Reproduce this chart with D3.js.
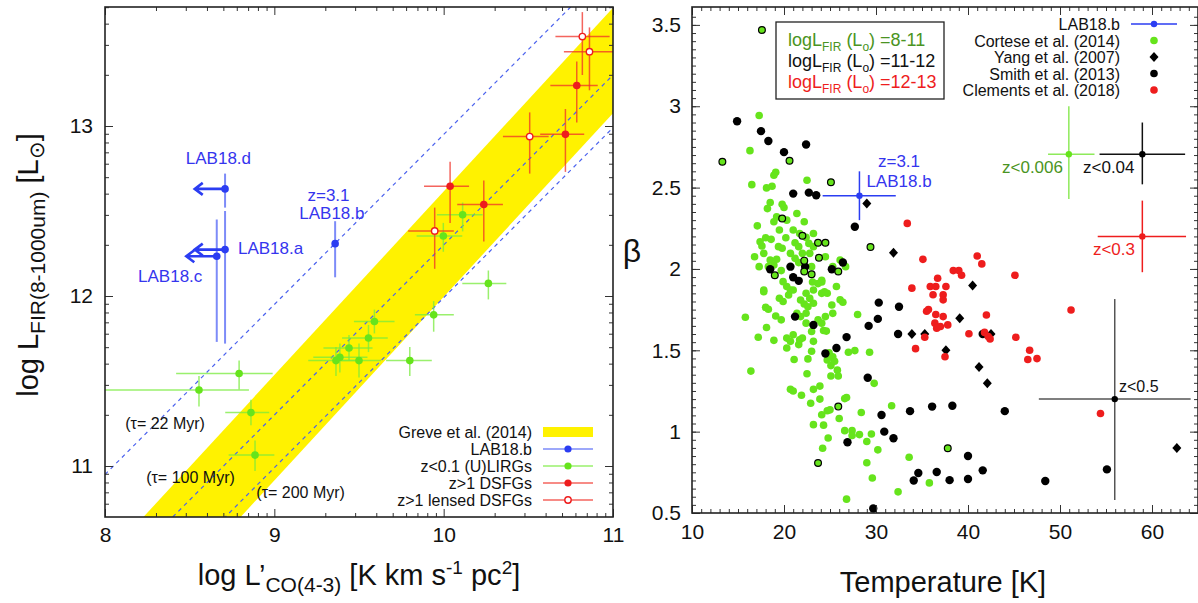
<!DOCTYPE html>
<html>
<head>
<meta charset="utf-8">
<script src="https://cdn.jsdelivr.net/npm/d3@7"></script>
<style>
  body { margin: 0; background: #fff; }
  text { font-family: "Liberation Sans", Arial, sans-serif; }
</style>
</head>
<body>
<svg id="fig" width="1198" height="603"></svg>
<script>
// ---------- left panel data : log L'CO(4-3) vs log LFIR ----------
const lirgs = [ // z<0.1 (U)LIRGs
  {x:10.112,y:12.478,xlo:9.96,xhi:10.23,ylo:12.38,yhi:12.55},
  {x:9.998,y:12.353,xlo:9.84,xhi:10.11,ylo:12.26,yhi:12.43},
  {x:10.264,y:12.074,xlo:10.11,xhi:10.37,ylo:11.98,yhi:12.15},
  {x:9.941,y:11.889,xlo:9.83,xhi:10.06,ylo:11.79,yhi:11.97},
  {x:9.591,y:11.85,xlo:9.47,xhi:9.71,ylo:11.78,yhi:11.92},
  {x:9.556,y:11.753,xlo:9.40,xhi:9.67,ylo:11.67,yhi:11.83},
  {x:9.441,y:11.694,xlo:9.29,xhi:9.58,ylo:11.62,yhi:11.77},
  {x:9.387,y:11.64,xlo:9.23,xhi:9.55,ylo:11.55,yhi:11.72},
  {x:9.364,y:11.62,xlo:9.20,xhi:9.50,ylo:11.53,yhi:11.70},
  {x:9.50,y:11.62,xlo:9.36,xhi:9.63,ylo:11.52,yhi:11.72},
  {x:9.80,y:11.62,xlo:9.66,xhi:9.93,ylo:11.53,yhi:11.70},
  {x:8.792,y:11.544,xlo:8.42,xhi:8.99,ylo:11.45,yhi:11.62},
  {x:8.555,y:11.447,xlo:8.0,xhi:8.85,ylo:11.35,yhi:11.53},
  {x:8.862,y:11.314,xlo:8.71,xhi:8.97,ylo:11.24,yhi:11.39},
  {x:8.886,y:11.064,xlo:8.73,xhi:9.00,ylo:10.97,yhi:11.15}
];
const dsfgs = [ // z>1 DSFGs
  {x:10.038,y:12.646,xlo:9.884,xhi:10.15,ylo:12.43,yhi:12.79},
  {x:10.237,y:12.538,xlo:10.08,xhi:10.35,ylo:12.32,yhi:12.68},
  {x:10.719,y:12.951,xlo:10.57,xhi:10.83,ylo:12.73,yhi:13.10},
  {x:10.786,y:13.238,xlo:10.63,xhi:10.91,ylo:13.02,yhi:13.38}
];
const lensed = [ // z>1 lensed DSFGs
  {x:9.947,y:12.383,xlo:9.79,xhi:10.06,ylo:12.16,yhi:12.52},
  {x:10.508,y:12.938,xlo:10.35,xhi:10.62,ylo:12.72,yhi:13.08},
  {x:10.819,y:13.526,xlo:10.66,xhi:10.98,ylo:13.30,yhi:13.67},
  {x:10.861,y:13.437,xlo:10.71,xhi:11.0,ylo:13.21,yhi:13.58}
];
const labNames = ['LAB18.a', 'LAB18.b', 'LAB18.c', 'LAB18.d'];
const labX     = [8.709, 9.359, 8.66, 8.709];
const labY     = [12.273, 12.308, 12.234, 12.63];
const labYlo   = [11.72, 12.11, 11.73, 12.52];
const labYhi   = [12.50, 12.44, 12.45, 12.72];
const labLimit = [8.53, null, 8.48, 8.53];   // upper limits in L'CO (arrow tip)

const greve = {slope: 1.08, icpt: 1.505, half: 0.31};   // Greve et al. (2014) band
const tauNames   = ['(\u03c4= 22 Myr)', '(\u03c4= 100 Myr)', '(\u03c4= 200 Myr)'];
const tauOffsets = [2.95, 2.30, 1.99];                   // log LFIR - log L'CO

const leftLegend = ['Greve et al. (2014)', 'LAB18.b', 'z<0.1 (U)LIRGs', 'z>1 DSFGs', 'z>1 lensed DSFGs'];

// ---------- right panel data : temperature vs beta ----------
const cortese = [
  [17.3,2.943],[16.3,2.727],[19.1,2.594],[18.9,2.576],[16.5,2.518],[18.1,2.498],[18.7,2.508],[22.5,2.545],
  [18.5,2.408],[18.2,2.371],[19.8,2.398],[20.0,2.378],[21.4,2.341],[19.2,2.32],[18.9,2.29],[20.3,2.30],
  [17.1,2.265],[22.2,2.29],[19.5,2.239],[21.0,2.239],[18.0,2.192],[18.6,2.182],[20.2,2.192],[23.2,2.218],
  [21.2,2.161],[21.6,2.137],[17.6,2.141],[19.4,2.137],[19.8,2.127],[22.8,2.096],[16.8,2.075],[20.7,2.096],
  [18.5,2.055],[19.2,2.06],[21.6,2.039],[24.5,2.075],[26.1,2.055],[26.7,2.014],[17.3,2.014],[19.7,1.99],
  [23.0,2.014],[24.1,1.92],[17.8,1.871],[20.3,1.892],[22.4,1.851],[19.5,1.82],[23.2,1.871],[25.7,1.892],[26.1,1.81],
  [21.7,2.218],[22.4,2.194],[22.7,2.157],[22.0,2.096],[21.2,2.065],[23.2,2.137],[17.4,2.167],[17.8,2.096],
  [18.9,2.024],[18.3,2.014],[25.3,2.014],[19.9,1.922],[21.0,1.871],[24.7,1.851],
  [17.8,1.86],[15.8,1.703],[18.0,1.764],[18.3,1.752],[19.1,1.711],[19.7,1.687],[18.1,1.64],[17.2,1.58],
  [18.9,1.561],[20.3,1.514],[21.1,1.443],[16.4,1.372],[20.7,1.26],[21.0,1.25],[21.9,1.224],[22.5,1.356],
  [23.2,1.26],[23.9,1.28],[22.9,1.175],[23.9,1.20],[24.1,1.104],[24.7,1.128],[25.0,1.134],[23.2,1.043],
  [24.3,1.04],[24.8,0.961],[24.2,0.898],[26.6,1.203],[26.8,1.21],[26.0,1.081],[28.4,1.118],[26.6,1.006],
  [27.4,1.006],[27.4,0.976],[28.2,0.982],[29.0,0.939],[29.5,0.986],[30.2,0.888],[29.0,0.809],[29.6,0.715],
  [29.8,1.297],[29.3,1.488],[31.7,1.159],[33.6,0.843],[32.4,0.63],[26.8,0.585],[35.8,0.685],[28.0,1.72],
  [26.4,1.795],[25.2,1.778],[27.7,1.498],[27.0,1.488],[24.3,1.622],[24.6,1.618],[24.9,1.484],[25.3,1.46],
  [24.7,1.44],[25.1,1.406],[25.5,1.433],[25.8,1.378],[25.9,1.342],[25.1,1.342],[22.6,1.447],[23.0,1.494],
  [21.6,1.535],[21.0,1.596],[21.7,1.565],[22.0,1.575],[20.3,1.575],[20.7,1.555],[23.7,1.687],[24.1,1.667],
  [23.0,1.616],[23.2,1.555],[22.2,1.785],[22.6,1.768],[23.2,1.789],[21.8,1.809],[22.8,1.819],[24.1,1.93],
  [23.7,1.91],[23.1,1.92],[20.7,1.87],[20.5,1.84],[24.1,1.85],[24.4,1.86],[25.3,1.727],[21.4,1.728],
  [21.8,1.707],[22.4,1.728],[24.5,1.707],[22.4,1.667],[19.9,1.80]
];
const corteseRing = [
  [17.6,3.469],[13.3,2.659],[20.6,2.665],[25.1,2.533],[19.8,2.31],[22.0,2.204],[23.7,2.161],[24.5,2.161],
  [29.4,2.135],[23.8,2.069],[22.2,2.051],[19.0,1.961],[22.2,1.984],[23.0,1.967],[25.9,1.984],[25.9,1.154],
  [23.7,0.807],[37.8,0.898]
];
const smith = [
  [14.9,2.908],[17.5,2.847],[18.3,2.786],[20.0,2.718],[22.4,2.765],[21.0,2.463],[22.7,2.469],[23.5,2.453],
  [27.7,2.259],[18.5,1.998],[20.7,2.014],[22.3,2.014],[21.0,1.949],[21.6,1.927],[25.2,1.998],[26.4,2.04],
  [30.3,1.793],[32.5,1.768],[21.2,1.707],[30.2,1.693],[23.2,1.656],[29.2,1.65],[32.4,1.60],[26.8,1.581],
  [25.7,1.514],[24.5,1.48],[29.1,1.331],[36.1,1.154],[38.3,1.159],[33.7,1.126],[30.6,1.102],[44.0,1.126],
  [30.9,1.0],[31.9,0.959],[26.9,0.935],[40.0,0.85],[34.6,0.746],[36.6,0.752],[41.6,0.762],[34.1,0.70],
  [38.0,0.702],[40.0,0.709],[48.4,0.697],[55.1,0.768],[29.7,0.528],[41.6,1.60]
];
const yang = [
  [29.0,2.402],[31.9,2.10],[40.5,1.898],[39.1,1.697],[33.9,1.60],[35.3,1.60],[42.5,1.60],[37.6,1.50],
  [41.2,1.398],[42.1,1.297],[62.7,0.90]
];
const clements = [
  [33.4,2.28],[35.1,2.059],[41.0,2.08],[41.5,2.031],[38.4,1.99],[39.0,1.99],[39.3,1.961],[36.7,1.943],
  [35.9,1.892],[36.5,1.892],[37.6,1.892],[33.9,1.882],[36.2,1.841],[37.3,1.841],[45.1,1.961],[51.2,1.748],
  [42.0,1.717],[35.5,1.74],[35.7,1.75],[36.5,1.72],[37.3,1.707],[36.4,1.667],[37.0,1.646],[37.8,1.656],
  [36.6,1.636],[37.3,1.81],[40.1,1.602],[41.8,1.61],[42.2,1.585],[42.4,1.57],[35.3,1.58],[34.3,1.51],
  [37.5,1.46],[45.2,1.58],[46.7,1.50],[46.5,1.443],[47.5,1.449],[54.4,1.112]
];
// LAB18.b and typical error bars of the comparison samples
const crossNames = ['LAB18.b', 'z<0.006', 'z<0.04', 'z<0.3', 'z<0.5'];
const crossT   = [28.2, 50.96, 58.95, 58.95, 55.95];
const crossTlo = [24.2, 48.7, 54.3, 54.1, 47.7];
const crossThi = [32.15, 53.75, 63.6, 63.7, 64.2];
const crossB   = [2.45, 2.705, 2.705, 2.20, 1.20];
const crossBlo = [2.30, 2.43, 2.52, 1.98, 0.58];
const crossBhi = [2.60, 3.0, 2.90, 2.42, 1.815];

const rightLegend = ['LAB18.b', 'Cortese et al. (2014)', 'Yang et al. (2007)', 'Smith et al. (2013)', 'Clements et al. (2018)'];
const lumRanges = ['8-11', '11-12', '12-13'];

// ---------- colours ----------
const GREEN = '#66e41c', GREEN_BAR = 'rgba(120,235,60,0.75)', GREEN_TXT = '#4a9422';
const RED = '#ee1d1d', RED_BAR = 'rgba(240,50,40,0.75)';
const BLUE = '#2b3df2', BLUE_BAR = 'rgba(70,90,245,0.7)';

const svg = d3.select('#fig');

// frame + inward ticks on all four sides
function drawFrame(g, x, y, o) {
  const [x0, x1] = x.range(), [y0, y1] = y.range();
  const ax = (gen, tr, vals, size, fmt, pad) => {
    const a = g.append('g').attr('transform', tr)
      .call(gen.tickValues(vals).tickSize(-size).tickPadding(pad || 3).tickFormat(fmt || ''));
    a.select('.domain').remove();
    a.selectAll('line').attr('stroke', '#333').attr('stroke-width', 1);
    a.selectAll('text').attr('font-size', 21).attr('fill', '#111');
    return a;
  };
  ax(d3.axisBottom(x), `translate(0,${y0})`, o.xMaj, 8, o.fx, o.padX);
  ax(d3.axisBottom(x), `translate(0,${y0})`, o.xMin, 4);
  ax(d3.axisTop(x), `translate(0,${y1})`, o.xMaj, 8);
  ax(d3.axisTop(x), `translate(0,${y1})`, o.xMin, 4);
  ax(d3.axisLeft(y), `translate(${x0},0)`, o.yMaj, 8, o.fy, o.padY);
  ax(d3.axisLeft(y), `translate(${x0},0)`, o.yMin, 4);
  ax(d3.axisRight(y), `translate(${x1},0)`, o.yMaj, 8);
  ax(d3.axisRight(y), `translate(${x1},0)`, o.yMin, 4);
  g.append('rect').attr('x', x0).attr('y', y1).attr('width', x1 - x0).attr('height', y0 - y1)
    .attr('fill', 'none').attr('stroke', '#222').attr('stroke-width', 1.6);
}

function errBars(g, data, x, y, color, width) {
  g.selectAll(null).data(data).enter().append('line')
    .attr('x1', d => x(d.xlo)).attr('x2', d => x(d.xhi))
    .attr('y1', d => y(d.y)).attr('y2', d => y(d.y))
    .attr('stroke', color).attr('stroke-width', width);
  g.selectAll(null).data(data).enter().append('line')
    .attr('x1', d => x(d.x)).attr('x2', d => x(d.x))
    .attr('y1', d => y(d.ylo)).attr('y2', d => y(d.yhi))
    .attr('stroke', color).attr('stroke-width', width);
}

// ================= LEFT PANEL =================
const xL = d3.scaleLinear().domain([8, 11]).range([105, 613]);
const yL = d3.scaleLinear().domain([10.70, 13.70]).range([517, 7]);
const left = svg.append('g');
svg.append('clipPath').attr('id', 'clipL').append('rect')
  .attr('x', 105).attr('y', 7).attr('width', 508).attr('height', 510);
const plotL = left.append('g').attr('clip-path', 'url(#clipL)');

const bandX = xL.domain();
const up = x => greve.slope * x + greve.icpt + greve.half;
const lo = x => greve.slope * x + greve.icpt - greve.half;
plotL.append('path')
  .attr('d', d3.line()([[xL(bandX[0]), yL(up(bandX[0]))], [xL(bandX[1]), yL(up(bandX[1]))],
                        [xL(bandX[1]), yL(lo(bandX[1]))], [xL(bandX[0]), yL(lo(bandX[0]))]]) + 'Z')
  .attr('fill', '#fff200');

plotL.selectAll('line.tau').data(tauOffsets).enter().append('line').classed('tau', true)
  .attr('x1', xL(8)).attr('y1', d => yL(8 + d))
  .attr('x2', xL(11)).attr('y2', d => yL(11 + d))
  .attr('stroke', '#4b62ee').attr('stroke-width', 1.2).attr('stroke-dasharray', '4,4');

errBars(plotL, lirgs, xL, yL, GREEN_BAR, 1.5);
errBars(plotL, dsfgs, xL, yL, RED_BAR, 1.5);
errBars(plotL, lensed, xL, yL, RED_BAR, 1.5);

plotL.selectAll(null).data(lirgs).enter().append('circle')
  .attr('cx', d => xL(d.x)).attr('cy', d => yL(d.y)).attr('r', 3.8).attr('fill', GREEN);
plotL.selectAll(null).data(dsfgs).enter().append('circle')
  .attr('cx', d => xL(d.x)).attr('cy', d => yL(d.y)).attr('r', 3.8).attr('fill', RED);
plotL.selectAll(null).data(lensed).enter().append('circle')
  .attr('cx', d => xL(d.x)).attr('cy', d => yL(d.y)).attr('r', 3.2)
  .attr('fill', '#fff').attr('stroke', RED).attr('stroke-width', 1.4);

// LAB18 sources
const labs = labNames.map((n, i) => ({n, x: labX[i], y: labY[i], ylo: labYlo[i], yhi: labYhi[i], lim: labLimit[i]}));
plotL.selectAll(null).data(labs).enter().append('line')
  .attr('x1', d => xL(d.x)).attr('x2', d => xL(d.x))
  .attr('y1', d => yL(d.ylo)).attr('y2', d => yL(d.yhi))
  .attr('stroke', BLUE_BAR).attr('stroke-width', 2);
const lims = labs.filter(d => d.lim !== null);
plotL.selectAll(null).data(lims).enter().append('path')
  .attr('d', d => {
    const x0 = xL(d.x), x1 = xL(d.lim), yy = yL(d.y);
    return `M${x0},${yy}L${x1},${yy}M${x1 + 8},${yy - 6}L${x1},${yy}L${x1 + 8},${yy + 6}`;
  })
  .attr('fill', 'none').attr('stroke', BLUE).attr('stroke-width', 2.6);
plotL.selectAll(null).data(labs).enter().append('circle')
  .attr('cx', d => xL(d.x)).attr('cy', d => yL(d.y)).attr('r', 3.8).attr('fill', BLUE);

const labTxt = left.append('g').attr('fill', '#3535ee').attr('font-size', 17);
labTxt.append('text').attr('x', xL(8.67)).attr('y', yL(12.775)).attr('text-anchor', 'middle').text('LAB18.d');
labTxt.append('text').attr('x', xL(8.785)).attr('y', yL(12.245)).text('LAB18.a');
labTxt.append('text').attr('x', xL(8.385)).attr('y', yL(12.08)).attr('text-anchor', 'middle').text('LAB18.c');
labTxt.append('text').attr('x', xL(9.32)).attr('y', yL(12.56)).attr('text-anchor', 'middle').text('z=3.1');
labTxt.append('text').attr('x', xL(9.34)).attr('y', yL(12.455)).attr('text-anchor', 'middle').text('LAB18.b');

const tauPos = [[8.355, 11.215], [8.505, 10.9], [9.155, 10.81]];
left.append('g').attr('font-size', 16).attr('fill', '#111')
  .selectAll('text').data(tauNames).enter().append('text')
  .attr('x', (d, i) => xL(tauPos[i][0])).attr('y', (d, i) => yL(tauPos[i][1]))
  .attr('text-anchor', 'middle').text(d => d);

// legend left
const legL = left.append('g').attr('font-size', 16).attr('fill', '#111');
leftLegend.forEach((t, i) => {
  const yy = 432 + i * 17;
  legL.append('text').attr('x', 532).attr('y', yy + 6).attr('text-anchor', 'end').text(t);
  if (i === 0) {
    legL.append('rect').attr('x', 543).attr('y', yy - 5).attr('width', 50).attr('height', 10).attr('fill', '#fff200');
  } else {
    const lc = [BLUE_BAR, GREEN_BAR, RED_BAR, RED_BAR][i - 1];
    legL.append('line').attr('x1', 543).attr('x2', 593).attr('y1', yy).attr('y2', yy).attr('stroke', lc).attr('stroke-width', 1.4);
    legL.append('circle').attr('cx', 568).attr('cy', yy).attr('r', i === 4 ? 3.2 : 3.6)
      .attr('fill', i === 4 ? '#fff' : [BLUE, GREEN, RED][i - 1])
      .attr('stroke', i === 4 ? RED : 'none').attr('stroke-width', 1.4);
  }
});

const logMinor = [];
[8, 9, 10].forEach(d => d3.range(2, 10).forEach(k => logMinor.push(d + Math.log10(k))));
const logMinorY = [];
[10, 11, 12, 13].forEach(d => d3.range(2, 10).forEach(k => logMinorY.push(d + Math.log10(k))));
drawFrame(left, xL, yL, {
  xMaj: [8, 9, 10, 11], xMin: logMinor, yMaj: [11, 12, 13],
  yMin: logMinorY.filter(v => v > 10.70 && v < 13.70),
  fx: d3.format('d'), fy: d3.format('d'), padX: 10, padY: 12
});

// axis titles left
left.append('text').attr('x', 359).attr('y', 585).attr('text-anchor', 'middle').attr('font-size', 29).attr('fill', '#111')
  .call(t => {
    t.append('tspan').text('log L\u2019');
    t.append('tspan').attr('font-size', 21).attr('dy', 7).text('CO(4-3)');
    t.append('tspan').attr('dy', -7).text(' [K km s');
    t.append('tspan').attr('font-size', 19).attr('dy', -11).text('-1');
    t.append('tspan').attr('dy', 11).text(' pc');
    t.append('tspan').attr('font-size', 19).attr('dy', -11).text('2');
    t.append('tspan').attr('dy', 11).text(']');
  });
left.append('text').attr('transform', 'translate(38,265) rotate(-90)').attr('text-anchor', 'middle')
  .attr('font-size', 29).attr('fill', '#111')
  .call(t => {
    t.append('tspan').text('log L');
    t.append('tspan').attr('font-size', 21).attr('dy', 7).text('FIR(8-1000um)');
    t.append('tspan').attr('dy', -7).text(' [L');
    t.append('tspan').attr('font-size', 21).attr('dy', 6).text('\u2299');
    t.append('tspan').attr('dy', -6).text(']');
  });

// ================= RIGHT PANEL =================
const xR = d3.scaleLinear().domain([10, 65]).range([692, 1198]);
const yR = d3.scaleLinear().domain([0.5, 3.61]).range([513, 7]);
const right = svg.append('g');
svg.append('clipPath').attr('id', 'clipR').append('rect')
  .attr('x', 692).attr('y', 7).attr('width', 506).attr('height', 506);
const plotR = right.append('g').attr('clip-path', 'url(#clipR)');

plotR.selectAll(null).data(cortese).enter().append('circle')
  .attr('cx', d => xR(d[0])).attr('cy', d => yR(d[1])).attr('r', 3.8).attr('fill', GREEN);
plotR.selectAll(null).data(smith).enter().append('circle')
  .attr('cx', d => xR(d[0])).attr('cy', d => yR(d[1])).attr('r', 4.2).attr('fill', '#000');
plotR.selectAll(null).data(corteseRing).enter().append('circle')
  .attr('cx', d => xR(d[0])).attr('cy', d => yR(d[1])).attr('r', 3.4)
  .attr('fill', GREEN).attr('stroke', '#000').attr('stroke-width', 1.2);
plotR.selectAll(null).data(yang).enter().append('path')
  .attr('transform', d => `translate(${xR(d[0])},${yR(d[1])})`)
  .attr('d', 'M0,-5L4.5,0L0,5L-4.5,0Z').attr('fill', '#000');
plotR.selectAll(null).data(clements).enter().append('circle')
  .attr('cx', d => xR(d[0])).attr('cy', d => yR(d[1])).attr('r', 3.8).attr('fill', RED);

// error crosses
const crossCol = [BLUE, '#8eea5a', '#111', RED, '#555'];
const crossDot = [BLUE, GREEN, '#000', RED, '#000'];
const crosses = crossNames.map((n, i) => ({n, x: crossT[i], xlo: crossTlo[i], xhi: crossThi[i],
  y: crossB[i], ylo: crossBlo[i], yhi: crossBhi[i], c: crossCol[i], dc: crossDot[i]}));
crosses.forEach(d => {
  errBars(plotR, [d], xR, yR, d.c, 1.5);
  plotR.append('circle').attr('cx', xR(d.x)).attr('cy', yR(d.y)).attr('r', 3.2).attr('fill', d.dc);
});
const cl = right.append('g').attr('font-size', 17);
cl.append('text').attr('x', 899).attr('y', 167).attr('text-anchor', 'middle').attr('fill', '#3535ee').text('z=3.1');
cl.append('text').attr('x', 899).attr('y', 187).attr('text-anchor', 'middle').attr('fill', '#3535ee').text(crossNames[0]);
cl.append('text').attr('x', 1063).attr('y', 173).attr('text-anchor', 'end').attr('fill', GREEN_TXT).text(crossNames[1]);
cl.append('text').attr('x', 1083).attr('y', 173).attr('fill', '#111').text(crossNames[2]);
cl.append('text').attr('x', 1135).attr('y', 255).attr('text-anchor', 'end').attr('fill', RED).text(crossNames[3]);
cl.append('text').attr('x', 1119).attr('y', 392).attr('fill', '#111').attr('font-size', 16).text(crossNames[4]);

// legend right
const legR = right.append('g').attr('font-size', 16).attr('fill', '#111');
rightLegend.forEach((t, i) => {
  const yy = 24 + i * 16.5;
  legR.append('text').attr('x', 1120).attr('y', yy + 6).attr('text-anchor', 'end').text(t);
  if (i === 0) {
    legR.append('line').attr('x1', 1131).attr('x2', 1177).attr('y1', yy).attr('y2', yy).attr('stroke', BLUE).attr('stroke-width', 1.4);
    legR.append('circle').attr('cx', 1154).attr('cy', yy).attr('r', 3.2).attr('fill', BLUE);
  } else if (i === 2) {
    legR.append('path').attr('transform', `translate(1154,${yy})`).attr('d', 'M0,-5L4.5,0L0,5L-4.5,0Z').attr('fill', '#000');
  } else {
    legR.append('circle').attr('cx', 1154).attr('cy', yy).attr('r', 3.8)
      .attr('fill', i === 1 ? GREEN : i === 3 ? '#000' : RED);
  }
});

// luminosity colour box
right.append('rect').attr('x', 776).attr('y', 22).attr('width', 168).attr('height', 77)
  .attr('fill', 'none').attr('stroke', '#222').attr('stroke-width', 1.3);
const boxCol = [GREEN_TXT, '#111', RED];
lumRanges.forEach((r, i) => {
  right.append('text').attr('x', 788).attr('y', 46 + i * 21).attr('font-size', 18).attr('fill', boxCol[i])
    .call(t => {
      t.append('tspan').text('logL');
      t.append('tspan').attr('font-size', 12).attr('dy', 5).text('FIR');
      t.append('tspan').attr('dy', -5).text(' (L');
      t.append('tspan').attr('font-size', 12).attr('dy', 5).text('o');
      t.append('tspan').attr('dy', -5).text(') =' + r);
    });
});

drawFrame(right, xR, yR, {
  xMaj: [10, 20, 30, 40, 50, 60], xMin: d3.range(10, 65.01, 1),
  yMaj: [0.5, 1, 1.5, 2, 2.5, 3, 3.5], yMin: d3.range(0.5, 3.6, 0.05),
  fx: d3.format('d'), fy: d => String(d), padX: 11, padY: 11
});

right.append('text').attr('x', 943).attr('y', 592).attr('text-anchor', 'middle').attr('font-size', 29).attr('fill', '#111')
  .text('Temperature [K]');
right.append('text').attr('x', 632).attr('y', 262).attr('text-anchor', 'middle').attr('font-size', 32).attr('fill', '#111')
  .text('\u03b2');
</script>
</body>
</html>
